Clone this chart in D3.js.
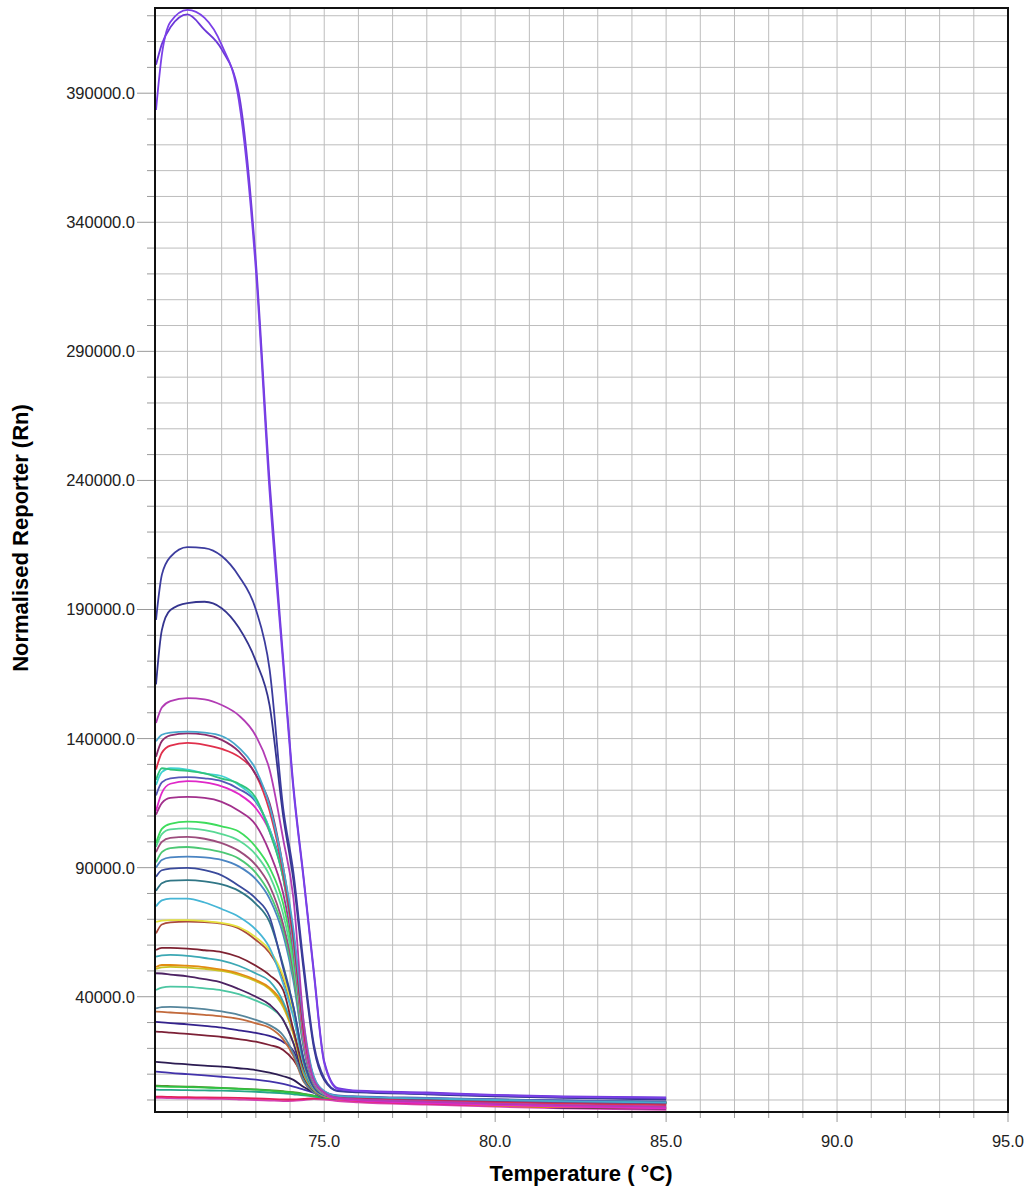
<!DOCTYPE html>
<html lang="en">
<head>
<meta charset="UTF-8">
<title>Melt curve - Normalised Reporter</title>
<script src="https://d3js.org/d3.v7.min.js"></script>
<style>
  body { margin: 0; background: #fff; font-family: "Liberation Sans", Arial, sans-serif; }
  .tick-label { font-size: 16.5px; fill: #222; }
  .axis-title { font-size: 22px; font-weight: bold; fill: #000; }
</style>
</head>
<body>
<div id="chart"></div>
<script>
// Temperature readings shared by all wells (deg C)
const temps = [70.08, 70.25, 70.5, 71.0, 71.5, 72.0, 72.5, 73.0, 73.4, 73.8,
               74.1, 74.4, 74.7, 75.0, 75.4, 76, 78, 80, 82, 85];

// Normalised reporter per well, in thousands
const wellsK = [
  [383.5, 404.8, 417.6, 422.3, 419.2, 408.7, 387.4, 321.5, 235.9, 168.5, 120.0, 85.0, 48.4, 14.3, 4.2, 3.4, 2.6, 1.8, 1.2, 0.8],
  [401.0, 409.0, 415.5, 420.5, 414.5, 407.0, 390.0, 325.0, 240.0, 171.0, 121.5, 86.0, 49.5, 15.0, 4.6, 3.6, 2.9, 2.0, 1.4, 1.0],
  [186.0, 203.4, 210.4, 214.2, 213.8, 210.7, 203.0, 190.0, 167.0, 113.0, 88.0, 52.3, 21.3, 8.5, 3.6, 3.2, 2.4, 1.6, 1.0, 0.4],
  [161.0, 182.0, 189.8, 192.5, 193.0, 190.5, 183.0, 170.0, 153.0, 110.0, 85.0, 50.0, 20.0, 7.7, 3.4, 3.0, 2.2, 1.4, 0.8, 0.2],
  [146.0, 152.0, 154.5, 155.7, 155.2, 153.0, 149.0, 141.0, 128.0, 101.0, 78.0, 30.0, 7.7, 3.0, 0.8, 0.2, -0.6, -1.4, -2.0, -2.6],
  [139.0, 141.5, 142.3, 142.7, 142.3, 141.0, 136.5, 128.0, 114.0, 90.0, 66.0, 30.0, 9.0, 3.5, 1.6, 1.2, 0.6, 0.0, -0.5, -1.0],
  [133.0, 139.0, 141.2, 142.0, 141.5, 139.5, 135.0, 126.0, 115.0, 90.0, 64.0, 28.0, 8.5, 3.3, 1.4, 1.0, 0.3, -0.3, -0.8, -1.3],
  [128.0, 134.5, 137.3, 138.3, 137.6, 136.0, 133.0, 126.0, 112.0, 88.0, 62.0, 26.0, 8.0, 3.0, 1.2, 0.6, -0.2, -0.8, -1.4, -2.0],
  [124.0, 128.5, 128.0, 127.5, 126.5, 124.5, 122.5, 117.0, 104.0, 86.0, 62.0, 27.0, 8.0, 3.0, 1.4, 1.0, 0.4, -0.1, -0.6, -1.1],
  [122.0, 127.0, 128.5, 128.0, 126.5, 125.5, 122.0, 116.0, 105.0, 86.0, 60.0, 26.0, 7.5, 2.8, 1.3, 0.9, 0.3, -0.2, -0.7, -1.2],
  [118.0, 123.0, 124.6, 125.1, 124.6, 123.5, 120.5, 115.5, 105.0, 88.0, 64.0, 28.0, 8.5, 3.2, 1.8, 1.4, 0.8, 0.2, -0.3, -0.8],
  [112.0, 119.0, 122.5, 123.5, 123.0, 121.5, 118.5, 113.0, 104.0, 86.0, 60.0, 24.0, 7.0, 2.5, 0.4, -0.2, -1.2, -2.0, -2.6, -3.2],
  [110.5, 115.0, 117.0, 117.4, 117.0, 115.5, 112.0, 106.5, 96.0, 80.0, 58.0, 24.0, 7.0, 2.6, 1.0, 0.6, -0.6, -1.4, -2.0, -2.6],
  [99.5, 105.0, 107.0, 107.8, 107.4, 106.0, 104.0, 98.0, 90.0, 76.0, 55.0, 24.0, 7.0, 2.5, 1.3, 0.9, 0.4, 0.0, -0.4, -0.8],
  [98.0, 103.0, 104.8, 105.2, 104.5, 103.0, 100.5, 95.0, 87.0, 72.0, 52.0, 22.0, 6.5, 2.3, 1.1, 0.7, 0.2, -0.2, -0.6, -1.0],
  [96.0, 100.0, 101.5, 101.9, 101.2, 99.5, 96.5, 91.0, 83.0, 68.0, 50.0, 21.0, 6.0, 2.2, 0.9, 0.5, -0.1, -0.6, -1.1, -1.6],
  [92.0, 96.0, 97.6, 98.0, 97.3, 96.0, 93.5, 88.0, 80.0, 66.0, 48.0, 21.0, 6.0, 2.2, 1.0, 0.7, 0.2, -0.2, -0.6, -1.0],
  [90.0, 93.0, 94.0, 94.3, 94.0, 93.0, 90.5, 85.5, 78.0, 64.0, 46.0, 20.0, 6.0, 2.2, 1.2, 0.9, 0.5, 0.1, -0.3, -0.7],
  [86.5, 89.0, 89.6, 89.9, 89.0, 87.0, 83.0, 78.0, 71.0, 51.0, 36.0, 16.0, 5.0, 2.0, 1.4, 1.1, 0.6, 0.2, -0.2, -0.6],
  [81.0, 84.0, 85.0, 85.2, 84.7, 83.5, 81.0, 76.0, 69.0, 52.0, 36.0, 15.0, 4.8, 1.9, 1.0, 0.7, 0.3, -0.1, -0.5, -0.9],
  [75.0, 77.3, 78.0, 78.0, 76.5, 74.0, 71.0, 66.0, 59.0, 45.0, 32.0, 14.0, 4.5, 1.8, 0.9, 0.6, 0.2, -0.2, -0.6, -1.0],
  [69.0, 69.5, 69.7, 69.7, 69.3, 68.6, 67.0, 63.0, 58.0, 48.0, 34.0, 14.0, 4.5, 1.8, 0.9, 0.6, 0.1, -0.3, -0.7, -1.1],
  [64.5, 68.0, 68.8, 69.1, 68.9, 68.3, 66.5, 62.0, 57.0, 47.0, 33.0, 13.5, 4.3, 1.7, 0.8, 0.5, 0.0, -0.5, -1.0, -1.5],
  [58.1, 58.9, 58.9, 58.6, 58.0, 57.3, 55.4, 52.0, 48.4, 42.6, 27.0, 12.4, 5.8, 3.0, 1.4, 0.9, 0.3, -0.2, -0.7, -1.2],
  [55.5, 56.0, 56.2, 55.8, 55.0, 54.0, 52.0, 49.0, 46.0, 38.0, 27.0, 11.0, 4.0, 1.8, 1.0, 0.7, 0.3, -0.1, -0.5, -0.9],
  [51.5, 52.3, 52.3, 52.0, 51.5, 50.5, 49.0, 46.5, 43.5, 37.0, 26.0, 10.5, 4.0, 1.6, 0.6, 0.2, -0.8, -2.2, -2.8, -3.0],
  [50.8, 51.4, 51.6, 51.3, 50.8, 50.0, 48.5, 46.0, 43.0, 36.0, 25.5, 10.0, 3.8, 1.5, 0.7, 0.4, -0.1, -0.5, -0.9, -1.3],
  [49.1, 49.0, 48.6, 47.9, 46.8, 45.5, 43.0, 40.0, 37.0, 31.0, 22.0, 9.0, 3.5, 1.5, 0.9, 0.6, 0.0, -1.5, -3.0, -3.3],
  [42.6, 43.5, 43.9, 43.8, 43.2, 42.5, 41.0, 38.5, 36.0, 31.0, 22.0, 9.0, 3.5, 1.5, 0.8, 0.5, 0.1, -0.3, -0.7, -1.1],
  [35.5, 36.0, 36.1, 35.8, 35.2, 34.3, 33.0, 31.0, 29.0, 25.0, 18.0, 7.5, 3.0, 1.3, 0.7, 0.4, 0.0, -0.4, -0.8, -1.2],
  [34.2, 34.1, 33.9, 33.5, 33.0, 32.4, 31.4, 29.7, 28.0, 23.5, 17.0, 7.0, 3.0, 1.3, 0.6, 0.3, -0.2, -0.6, -1.0, -1.4],
  [30.3, 30.1, 29.8, 29.3, 28.7, 28.0, 27.0, 26.0, 24.8, 22.5, 19.0, 9.5, 3.0, 1.2, 0.8, 0.5, 0.1, -0.3, -0.7, -1.1],
  [26.5, 26.4, 26.1, 25.6, 25.0, 24.4, 23.6, 22.6, 21.3, 19.4, 15.5, 9.0, 4.0, 1.5, 0.8, 0.5, 0.0, -0.4, -0.8, -1.2],
  [14.8, 14.6, 14.3, 13.8, 13.3, 12.9, 12.3, 11.6, 10.6, 9.2, 7.8, 5.0, 3.0, 1.6, 1.0, 0.7, 0.2, -0.2, -0.6, -1.0],
  [11.0, 10.8, 10.5, 10.0, 9.5, 9.0, 8.5, 7.9, 7.2, 6.2, 5.2, 4.0, 2.8, 1.6, 1.0, 0.7, 0.3, -0.1, -0.5, -0.9],
  [5.3, 5.2, 5.1, 5.0, 4.8, 4.6, 4.3, 4.0, 3.6, 3.2, 2.8, 2.3, 1.6, 1.0, 0.6, 0.4, 0.0, -0.3, -0.6, -0.9],
  [5.6, 5.5, 5.4, 5.2, 5.0, 4.7, 4.4, 4.1, 3.8, 3.4, 3.0, 2.4, 1.7, 1.1, 0.7, 0.5, 0.1, -0.2, -0.5, -0.8],
  [4.0, 3.9, 3.9, 3.8, 3.7, 3.6, 3.4, 3.2, 2.9, 2.6, 2.2, 1.8, 1.3, 0.8, 0.4, 0.2, -0.2, -0.5, -0.8, -1.1],
  [1.3, 1.3, 1.2, 1.1, 1.0, 0.9, 0.8, 0.6, 0.4, 0.2, 0.2, 0.4, 0.6, 0.5, 0.2, -0.4, -1.4, -2.2, -2.8, -3.2],
  [0.8, 0.8, 0.7, 0.6, 0.5, 0.4, 0.2, 0.0, -0.2, -0.4, -0.3, 0.0, 0.3, 0.2, -0.4, -0.9, -1.8, -2.6, -3.2, -3.8]
];

// One colour per well, same order as wellsK
const wellColors = [
  "#7b40e8", "#6c38d8", "#3c3c9e", "#35358f", "#b23cb4", "#48a8cc", "#8c2c6c", "#e0304c",
  "#30c47c", "#40d2d2", "#5656b8", "#e028c8", "#a2308c", "#3edc5c", "#58d894", "#9c4c7c",
  "#4cc874", "#4a84c2", "#3a4a9c", "#307686", "#46b6d6", "#e6e23e", "#aa4a3c", "#7e2232",
  "#3ca8b4", "#e28c12", "#cac222", "#4c2262", "#4cc6a2", "#56869c", "#c26a3c", "#34228c",
  "#7c2036", "#2c1c52", "#4232aa", "#2ec242", "#5c8c32", "#26a688", "#e2225c", "#d642b2"
];

// Axis ticks
const xMajorTicks = [75, 80, 85, 90, 95];
const yMajorTicks = [40000, 90000, 140000, 190000, 240000, 290000, 340000, 390000];

const width = 1032, height = 1189;
const plot = { left: 155, right: 1008, top: 8, bottom: 1112 };

const svg = d3.select("#chart").append("svg")
  .attr("width", width)
  .attr("height", height);

const x = d3.scaleLinear().domain([70.05, 95]).range([plot.left, plot.right]);
const y = d3.scaleLinear().domain([-4650, 423000]).range([plot.bottom, plot.top]);

// Grid
const xMinor = d3.range(71, 95, 1);
const yMinor = d3.range(0, 423000, 10000);

svg.append("g").selectAll("line").data(xMinor).join("line")
  .attr("x1", d => x(d)).attr("x2", d => x(d))
  .attr("y1", plot.top).attr("y2", plot.bottom)
  .attr("stroke", "#bdbdbd").attr("stroke-width", 1);

svg.append("g").selectAll("line").data(yMinor).join("line")
  .attr("x1", plot.left).attr("x2", plot.right)
  .attr("y1", d => y(d)).attr("y2", d => y(d))
  .attr("stroke", "#bdbdbd").attr("stroke-width", 1);

// Tick marks outside the frame
svg.append("g").selectAll("line").data(yMinor).join("line")
  .attr("x1", d => yMajorTicks.includes(d) ? plot.left - 18 : plot.left - 8)
  .attr("x2", plot.left)
  .attr("y1", d => y(d)).attr("y2", d => y(d))
  .attr("stroke", "#9a9a9a");

svg.append("g").selectAll("line").data(xMinor.concat([95])).join("line")
  .attr("x1", d => x(d)).attr("x2", d => x(d))
  .attr("y1", plot.bottom)
  .attr("y2", d => xMajorTicks.includes(d) ? plot.bottom + 10 : plot.bottom + 6)
  .attr("stroke", "#9a9a9a");

// Tick labels
const fmt = d3.format(".1f");
svg.append("g").selectAll("text").data(yMajorTicks).join("text")
  .attr("class", "tick-label")
  .attr("x", plot.left - 20)
  .attr("y", d => y(d))
  .attr("dy", "0.36em")
  .attr("text-anchor", "end")
  .text(d => fmt(d));

svg.append("g").selectAll("text").data(xMajorTicks).join("text")
  .attr("class", "tick-label")
  .attr("x", d => x(d))
  .attr("y", 1147)
  .attr("text-anchor", "middle")
  .text(d => fmt(d));

// Curves
svg.append("clipPath").attr("id", "plot-clip")
  .append("rect")
  .attr("x", plot.left).attr("y", plot.top)
  .attr("width", plot.right - plot.left).attr("height", plot.bottom - plot.top);

const line = d3.line()
  .x((d, i) => x(temps[i]))
  .y(d => y(d * 1000))
  .curve(d3.curveMonotoneX);

const order = d3.range(wellsK.length).reverse();
svg.append("g").attr("clip-path", "url(#plot-clip)")
  .selectAll("path").data(order).join("path")
  .attr("d", i => line(wellsK[i]))
  .attr("fill", "none")
  .attr("stroke", i => wellColors[i])
  .attr("stroke-width", 1.8)
  .attr("stroke-linejoin", "round");

// Frame
svg.append("rect")
  .attr("x", plot.left).attr("y", plot.top)
  .attr("width", plot.right - plot.left).attr("height", plot.bottom - plot.top)
  .attr("fill", "none").attr("stroke", "#111").attr("stroke-width", 2);

// Axis titles
svg.append("text")
  .attr("class", "axis-title")
  .attr("x", 581).attr("y", 1181)
  .attr("text-anchor", "middle")
  .text("Temperature ( \u00B0C)");

svg.append("text")
  .attr("class", "axis-title")
  .attr("transform", "translate(28,538) rotate(-90)")
  .attr("text-anchor", "middle")
  .text("Normalised Reporter (Rn)");
</script>
</body>
</html>
